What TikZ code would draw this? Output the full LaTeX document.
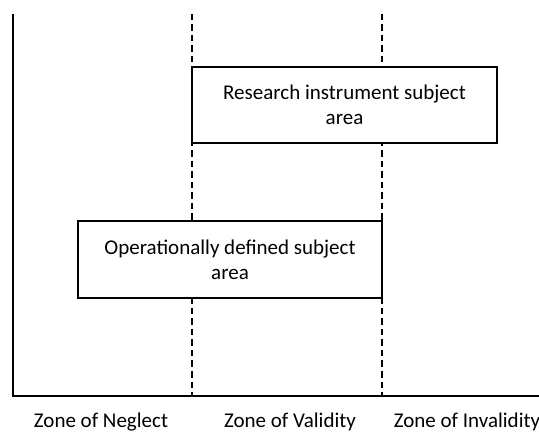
\documentclass[tikz,border=0pt]{standalone}
\usepackage{fontspec}
\setmainfont{Carlito}
\begin{document}
\begin{tikzpicture}[x=1pt,y=-1pt,
  axis/.style={line width=2pt},
  zoneline/.style={line width=1.8pt,dash pattern=on 6.5pt off 4pt},
  areabox/.style={draw,line width=1.3pt,fill=white,align=center,inner sep=0pt},
  zonelabel/.style={anchor=base,inner sep=0pt},
  font=\fontsize{21}{25}\selectfont]
\useasboundingbox (0,0) rectangle (539,433);
% axes
\coordinate (top) at (13,14);
\coordinate (origin) at (13,396);
\coordinate (xend) at (539,396);
\draw[axis] (top) -- (origin) -- (xend);
% zone boundaries
\coordinate (d1t) at (192,14);
\coordinate (d1b) at (192,396);
\coordinate (d2t) at (382,14);
\coordinate (d2b) at (382,396);
\draw[zoneline] (d1t) -- (d1b);
\draw[zoneline] (d2t) -- (d2b);
% boxes
\node[areabox,minimum width=305pt,minimum height=76pt] (rias) at (344.5,105)
  {Research instrument subject\\area};
\node[areabox,minimum width=304pt,minimum height=77pt] (odsa) at (230,259.5)
  {Operationally defined subject\\area};
% labels
\node[zonelabel] (zn) at (101,427) {Zone of Neglect};
\node[zonelabel] (zv) at (290,427) {Zone of Validity};
\node[zonelabel] (zi) at (467,427) {Zone of Invalidity};
\end{tikzpicture}
\end{document}
